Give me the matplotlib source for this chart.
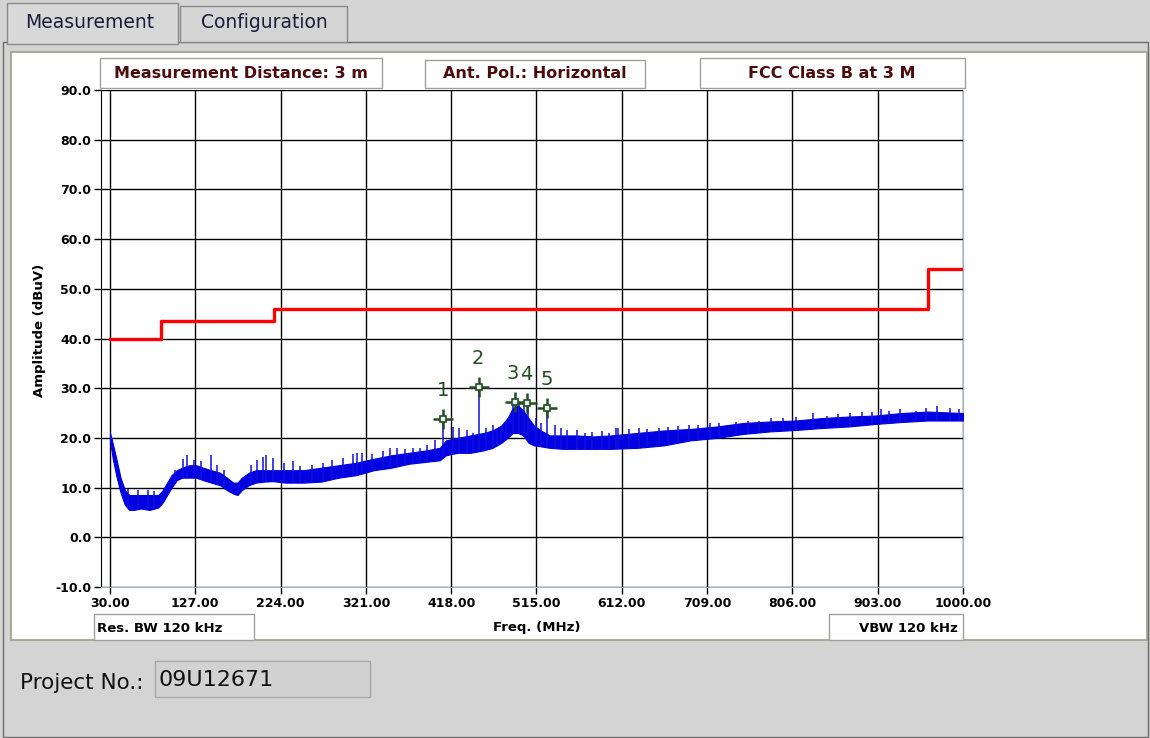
import numpy as np
import matplotlib
matplotlib.use("Agg")
from matplotlib import pyplot as plt
from matplotlib.patches import Rectangle

W, H = 1150, 738

# limit line (FCC Class B at 3 m), step edges in MHz / dBuV
limit_freq = [30, 88, 88, 216, 216, 960, 960, 1000]
limit_amp = [40.0, 40.0, 43.5, 43.5, 46.0, 46.0, 54.0, 54.0]

trace_freq = [30, 33, 37, 42, 47, 52, 57, 65, 75, 85, 90, 95, 100, 106, 112, 120, 128, 136,
              145, 155, 163, 170, 175, 180, 188, 196, 205, 215, 230, 250, 270, 290, 310, 330,
              350, 370, 390, 405, 412, 425, 440, 455, 465, 475, 482, 488, 494, 500, 506, 512,
              520, 530, 545, 560, 580, 600, 630, 660, 690, 720, 750, 780, 810, 840, 870, 900,
              930, 960, 1000]
trace_lo = [19.5, 16, 12.5, 9, 6.5, 5.5, 5.5, 5.8, 5.5, 6, 7, 8.5, 10, 11.5, 12, 12, 12, 11.5,
            11, 10.5, 9.5, 8.8, 8.5, 9.5, 10.5, 11, 11.2, 11.3, 11, 11, 11.2, 12, 12.5, 13.5,
            14, 14.8, 15.2, 15.5, 16.5, 17, 17, 17.5, 18, 19, 20, 21, 21, 20.5, 19, 18.5,
            18.3, 18, 17.8, 17.8, 17.8, 17.8, 18, 18.5, 19.5, 20, 20.8, 21.3, 21.6, 22, 22.3, 22.8,
            23.2, 23.5, 23.5]
trace_hi = [21, 19, 16, 12, 9.5, 8.5, 8.5, 8.5, 8.5, 8.5, 9.5, 11, 12.5, 13.5, 14, 14.5, 14.5, 14,
            13.5, 13, 12, 11, 11, 12, 13, 13.5, 13.5, 13.5, 13.5, 13.5, 14, 14.5, 15, 15.8,
            16.5, 17, 17.5, 18, 19.5, 20, 20.5, 21, 21.5, 22.5, 24, 26, 26.5, 25.5, 24, 22.5,
            21.5, 20.5, 20.5, 20.5, 20.3, 20.5, 21, 21.5, 21.8, 22.3, 23, 23.3, 23.5, 24, 24.3, 24.5,
            25, 25.3, 25]

# narrow spikes sticking out of the band
spike_freq = [50, 62, 73, 80, 104, 113, 118, 125, 133, 145, 152, 160, 190, 197, 204, 207, 215,
              228, 238, 246, 260, 272, 283, 295, 306, 311, 317, 328, 340, 348, 356, 366, 375,
              383, 390, 400, 409, 420, 427, 436, 443, 450, 458, 465, 470, 475, 480, 488, 495,
              501, 505, 514, 520, 527, 536, 543, 550, 561, 570, 578, 590, 598, 605, 608, 620,
              632, 641, 654, 665, 676, 688, 699, 712, 723, 742, 755, 768, 782, 795, 810, 830,
              845, 858, 872, 885, 897, 907, 916, 928, 946, 958, 970, 985, 995]
spike_top = [9.8, 9.5, 9.5, 9.3, 13.5, 15.8, 16.6, 15.5, 15.3, 16.5, 14.5, 13.5, 14.5, 15.5,
             16.2, 16.5, 16, 15, 15.3, 14.3, 14.5, 15, 15.5, 16, 16.8, 17, 17, 16.8, 17.3, 18,
             18, 17.8, 18, 18, 18.5, 19.5, 24.0, 22.2, 22, 21.5, 21, 30.2, 22, 22.5, 21.6, 22.2,
             23.5, 27.2, 27, 27, 27.0, 24, 23, 26.0, 22.5, 22, 21.6, 21.5, 21, 21.2, 21.3, 21,
             22, 22, 21.7, 22, 21.8, 21.9, 22.1, 22.3, 22.5, 22.6, 23, 23, 23.2, 23.5, 23.5, 24,
             24, 24.2, 25, 24.5, 24.8, 25, 25.2, 25.3, 25.8, 25.5, 25.8, 25.5, 26, 26.4, 26, 25.8]

# peak markers
mark_label = ["1", "2", "3", "4", "5"]
mark_freq = [409, 449.6, 490.5, 504, 527]
mark_amp = [23.8, 30.2, 27.2, 27.0, 26.0]

x_ticks = [30, 127, 224, 321, 418, 515, 612, 709, 806, 903, 1000]
x_ticklabels = ["30.00", "127.00", "224.00", "321.00", "418.00", "515.00", "612.00",
                "709.00", "806.00", "903.00", "1000.00"]
y_ticks = [-10, 0, 10, 20, 30, 40, 50, 60, 70, 80, 90]
y_ticklabels = ["-10.0", "0.0", "10.0", "20.0", "30.0", "40.0", "50.0", "60.0", "70.0",
                "80.0", "90.0"]


def fx(x):
    return x / W


def fy(y):
    return 1 - y / H


def box(fig, x0, y0, x1, y1, fc="white", ec="#a0a0a0", lw=1.0, z=1):
    fig.patches.append(Rectangle((fx(x0), fy(y1)), fx(x1 - x0), (y1 - y0) / H,
                                 transform=fig.transFigure, facecolor=fc,
                                 edgecolor=ec, linewidth=lw, zorder=z))


fig = plt.figure(figsize=(W / 100, H / 100), dpi=100, facecolor="#d4d4d4")

# window frame, tabs and white panel
box(fig, 3, 42, 1148, 737, fc="#d4d4d4", ec="#6a6a6a", lw=1.0)
box(fig, 180, 6, 347, 42, fc="#d4d4d4", ec="#8a8a8a", lw=1.0)
box(fig, 7, 3, 178, 44, fc="#d8d8d8", ec="#8a8a8a", lw=1.0, z=2)
box(fig, 11, 52, 1147, 640, fc="white", ec="#9aa088", lw=1.2, z=3)
fig.text(fx(90), fy(23), "Measurement", ha="center", va="center", fontsize=13.5, color="#1c1c3a")
fig.text(fx(264), fy(23), "Configuration", ha="center", va="center", fontsize=13.5,
         color="#1c1c3a")

# header / footer boxes
box(fig, 100, 58, 382, 88, z=4)
box(fig, 425, 60, 645, 88, z=4)
box(fig, 700, 58, 965, 88, z=4)
box(fig, 94, 614, 254, 640, z=4)
box(fig, 829, 614, 963, 640, z=4)
hdr = dict(ha="center", va="center", fontsize=11.5, fontweight="bold", color="#4a0c0c", zorder=5)
fig.text(fx(241), fy(73), "Measurement Distance: 3 m", **hdr)
fig.text(fx(535), fy(74), "Ant. Pol.: Horizontal", **hdr)
fig.text(fx(832), fy(73), "FCC Class B at 3 M", **hdr)
fig.text(fx(97), fy(628), "Res. BW 120 kHz", ha="left", va="center", fontsize=9.5,
         fontweight="bold", zorder=5)
fig.text(fx(958), fy(628), "VBW 120 kHz", ha="right", va="center", fontsize=9.5,
         fontweight="bold", zorder=5)
fig.text(fx(537), fy(627), "Freq. (MHz)", ha="center", va="center", fontsize=9.5,
         fontweight="bold", zorder=5)
fig.text(fx(40), fy(330), "Amplitude (dBuV)", ha="center", va="center", rotation=90,
         fontsize=9.5, fontweight="bold", zorder=5)

# project number
fig.text(fx(20), fy(683), "Project No.:", ha="left", va="center", fontsize=15.5, color="#111111")
box(fig, 155, 661, 370, 697, fc="#d2d2d2", ec="#a8a8a8", lw=1.0)
fig.text(fx(159), fy(680), "09U12671", ha="left", va="center", fontsize=16, color="#111111")

# plot area
ax = fig.add_axes([fx(101), fy(587), (963 - 101) / W, (587 - 90) / H], zorder=6)
ax.set_facecolor("none")
ax.set_xlim(19.8, 1000)
ax.set_ylim(-10, 90)

for t in x_ticks:
    ax.axvline(t, color="black", lw=1.0, zorder=1)
for t in y_ticks:
    ax.axhline(t, color="black", lw=1.0, zorder=1)

ax.plot(limit_freq, limit_amp, color="#ff0000", lw=2.4, zorder=3)

ax.fill_between(trace_freq, trace_lo, trace_hi, color="#0000e0", lw=0.8, zorder=4)
spike_base = np.interp(spike_freq, trace_freq, trace_lo)
ax.vlines(spike_freq, spike_base, spike_top, color="#1010e0", lw=1.1, zorder=4)

green = "#234d23"
ax.plot(mark_freq, mark_amp, ls="none", marker="+", ms=15, mew=1.8, color=green, zorder=6)
ax.plot(mark_freq, mark_amp, ls="none", marker="s", ms=5, mew=1.2, mfc="#e8f0f0",
        mec=green, zorder=7)
lab_dx = [0, -1, -2, -1, 0]
for lab, f, a, dx in zip(mark_label, mark_freq, mark_amp, lab_dx):
    ax.text(f + dx, a + 5.8, lab, ha="center", va="center", fontsize=14, color=green, zorder=7)

ax.set_xticks(x_ticks)
ax.set_xticklabels(x_ticklabels, fontsize=9, fontweight="bold")
ax.set_yticks(y_ticks)
ax.set_yticklabels(y_ticklabels, fontsize=9, fontweight="bold")
ax.tick_params(axis="both", direction="out", length=5, width=1, colors="black", pad=2)

ax.spines["top"].set_visible(False)
ax.spines["left"].set_color("black")
ax.spines["right"].set_color("#a8b4c4")
ax.spines["bottom"].set_color("#a8b4c4")

plt.savefig("out.png", dpi=100, facecolor=fig.get_facecolor())
